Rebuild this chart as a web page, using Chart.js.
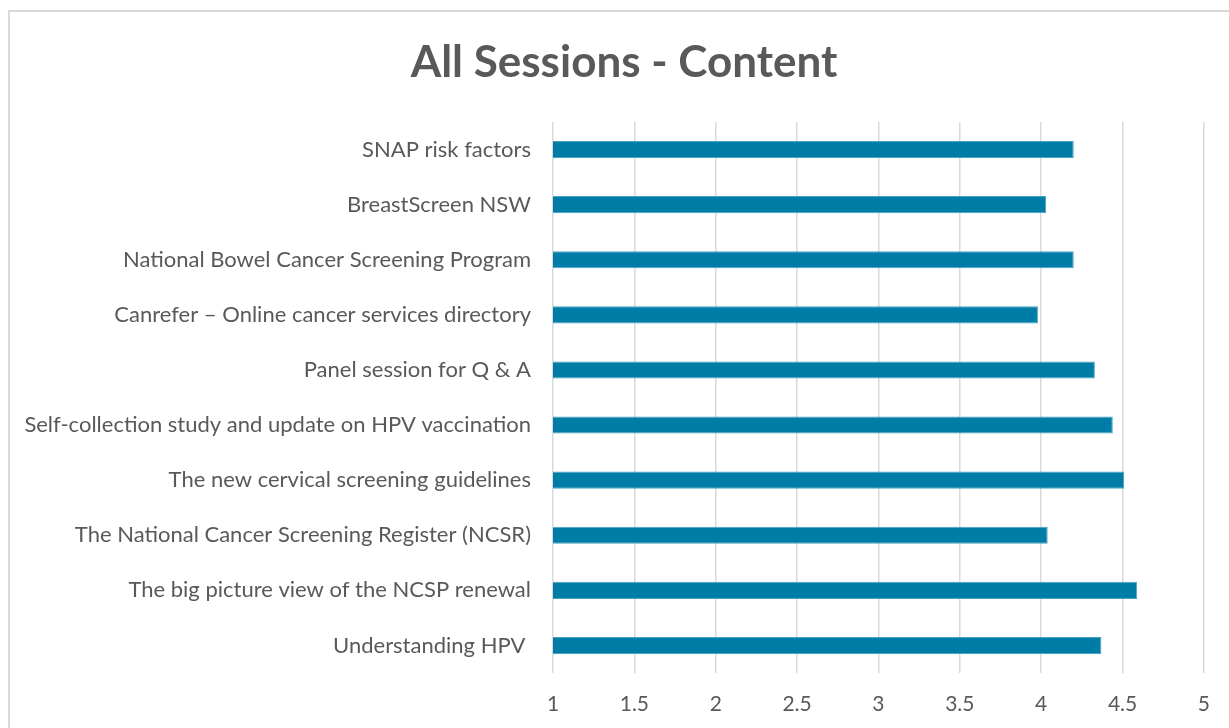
<!DOCTYPE html>
<html>
<head>
<meta charset="utf-8">
<script src="https://cdn.jsdelivr.net/npm/chart.js@4"></script>
<style>
  body { margin: 0; background: #fff; }
  #frame {
    position: absolute; left: 8px; top: 10px;
    width: 1221px; height: 718px;
    border-left: 2px solid #d9d9d9; border-top: 2px solid #d9d9d9;
    box-sizing: border-box;
  }
  #wrap { position: absolute; left: 0; top: 0; width: 1219px; height: 716px; }
</style>
</head>
<body>
<div id="frame"><div id="wrap"><canvas id="contentChart"></canvas></div></div>
<script>
const sessions = [
  "SNAP risk factors",
  "BreastScreen NSW",
  "National Bowel Cancer Screening Program",
  "Canrefer \u2013 Online cancer services directory",
  "Panel session for Q & A",
  "Self-collection study and update on HPV vaccination",
  "The new cervical screening guidelines",
  "The National Cancer Screening Register (NCSR)",
  "The big picture view of the NCSP renewal",
  "Understanding HPV ",
];
const scores = [4.2, 4.03, 4.2, 3.98, 4.33, 4.44, 4.51, 4.04, 4.59, 4.37];
const tickValues = [1, 1.5, 2, 2.5, 3, 3.5, 4, 4.5, 5];
const chartTitle = "All Sessions - Content";

const textColor = "#595959";
const fontFamily = "Lato, 'Open Sans', sans-serif";

// title is centred on the whole frame, not on the plot, so draw it by hand
const titlePlugin = {
  id: "frameTitle",
  afterDraw(chart) {
    const c = chart.ctx;
    c.save();
    c.fillStyle = textColor;
    c.font = "bold 44px " + fontFamily;
    c.textAlign = "center";
    c.textBaseline = "middle";
    c.fillText(chartTitle, 614, 51);
    c.restore();
  },
};

const ctx = document.getElementById("contentChart").getContext("2d");
const contentChart = new Chart(ctx, {
  type: "bar",
  data: {
    labels: sessions,
    datasets: [
      {
        label: "Content",
        data: scores,
        backgroundColor: "#007da6",
        borderColor: "#4aa3c4",
        borderWidth: 1,
        borderSkipped: "start",
        barPercentage: 0.31,
        categoryPercentage: 1,
      },
    ],
  },
  options: {
    indexAxis: "y",
    responsive: true,
    maintainAspectRatio: false,
    animation: false,
    layout: { padding: { top: 110, right: 23, bottom: 0, left: 0 } },
    plugins: {
      legend: { display: false },
      tooltip: { enabled: false },
      title: { display: false },
    },
    scales: {
      x: {
        min: 1,
        max: 5,
        afterBuildTicks: (axis) => {
          axis.ticks = tickValues.map((v) => ({ value: v }));
        },
        afterFit: (axis) => { axis.height = 55; },
        grid: { color: "#d9d9d9", lineWidth: 1.5, drawTicks: false },
        border: { display: false },
        ticks: {
          color: textColor,
          font: { family: fontFamily, size: 21 },
          padding: 19,
          maxRotation: 0,
          callback: (v) => String(v),
        },
      },
      y: {
        afterFit: (axis) => { axis.width = 543; },
        grid: { display: false },
        border: { display: false },
        ticks: { color: textColor, font: { family: fontFamily, size: 22 }, padding: 14 },
      },
    },
  },
  plugins: [titlePlugin],
});
</script>
</body>
</html>
